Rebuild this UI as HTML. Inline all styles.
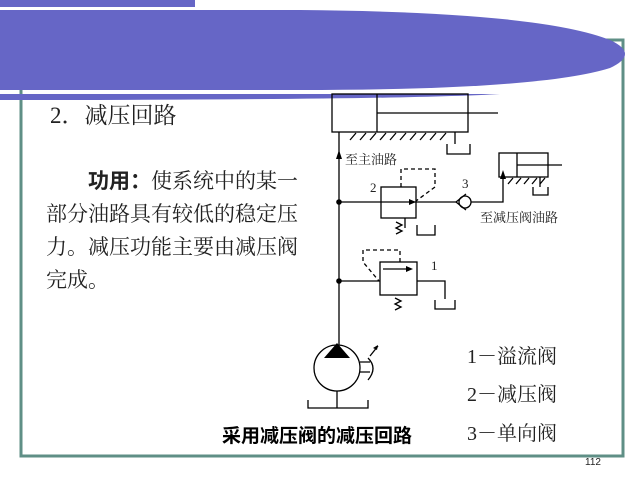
<!DOCTYPE html>
<html><head><meta charset="utf-8"><style>
body{margin:0;width:640px;height:480px;background:#fff;overflow:hidden;position:relative;font-family:"Liberation Serif","Noto Serif CJK SC",serif}
.t{position:absolute;white-space:nowrap;color:#222}
.b{position:absolute;white-space:nowrap;color:#222;font-size:21px;letter-spacing:0px}
</style></head><body>
<svg width="640" height="480" style="position:absolute;left:0;top:0">
<rect x="21" y="40" width="602" height="416" fill="none" stroke="#5f8f86" stroke-width="3"/>
<rect x="0" y="0" width="195" height="7" fill="#6666c6"/>
<path d="M0 10 L300 10 Q540 12 610 40 Q640 54 610 68 Q540 90 300 90 L0 90 Z" fill="#6666c6"/>
<path d="M0 94 L500 94 Q400 100 0 100 Z" fill="#6666c6"/>
<g stroke="#000" stroke-width="1.3" fill="none">
<rect x="332" y="94" width="136" height="38"/>
<line x1="377" y1="94" x2="377" y2="132"/>
<line x1="377" y1="113" x2="498" y2="113"/>
<path d="M350 140l6-7M360 140l6-7M370 140l6-7M380 140l6-7M390 140l6-7M400 140l6-7M410 140l6-7M420 140l6-7M430 140l6-7M440 140l6-7"/>
<path d="M455 132v12M447 144v10h23v-10"/>
<line x1="339" y1="132" x2="339" y2="345"/>
<rect x="381" y="187" width="35" height="31"/>
<line x1="339" y1="202" x2="457" y2="202"/>
<path d="M401 187v-18h34v18l-19 14" stroke-dasharray="4,3"/>
<path d="M396 222l6 3-6 3 6 3-6 3"/>
<path d="M405 218v10M417 225v10h18v-10"/>
<circle cx="465" cy="202" r="6"/>
<path d="M456 202l10-8M456 202l10 8"/>
<path d="M471 202h32v-24"/>
<rect x="499" y="153" width="49" height="24"/>
<line x1="517" y1="153" x2="517" y2="177"/>
<line x1="517" y1="165" x2="562" y2="165"/>
<path d="M508 184l5-6M516 184l5-6M524 184l5-6M532 184l5-6M540 184l5-6"/>
<path d="M540 177v10M533 187v8h15v-8"/>
<rect x="380" y="262" width="37" height="33"/>
<line x1="339" y1="281" x2="380" y2="281"/>
<path d="M400 262v-12h-37v12l16 19" stroke-dasharray="4,3"/>
<line x1="383" y1="269" x2="411" y2="269"/>
<path d="M417 281h28v18"/>
<path d="M395 298l6 3-6 3 6 3-6 3"/>
<path d="M435 300v9h20v-9"/>
<circle cx="337" cy="368" r="23"/>
<path d="M337 391v17M308 400v8h60v-8"/>
<path d="M360 362h10M360 372h10M368 358q10 10 0 22"/>
<path d="M370 356l8-10"/>
</g>
<g fill="#000">
<circle cx="339" cy="202" r="2.8"/>
<circle cx="339" cy="281" r="2.8"/>
<path d="M337 343l-13 15h26z"/>
<path d="M339 150l-3 9h6z"/>
<path d="M503 170l-3 9h6z"/>
<path d="M416 202l-7-3v6z"/>
<path d="M413 269l-7-3v6z"/>
<path d="M378 345l-5 3 4 2z"/>
</g>
</svg>
<div class="t" style="left:50px;top:97px;font-size:23px">2．减压回路</div>
<div class="b" style="left:88px;top:165px"><span style="font-family:'Liberation Sans','Noto Sans CJK SC',sans-serif;font-weight:bold">功用：</span>使系统中的某一</div>
<div class="b" style="left:46px;top:198px">部分油路具有较低的稳定压</div>
<div class="b" style="left:46px;top:231px">力。减压功能主要由减压阀</div>
<div class="b" style="left:46px;top:264px">完成。</div>
<div class="t" style="left:345px;top:149px;font-size:13px">至主油路</div>
<div class="t" style="left:370px;top:180px;font-size:13px">2</div>
<div class="t" style="left:462px;top:176px;font-size:13px">3</div>
<div class="t" style="left:480px;top:207px;font-size:13px">至减压阀油路</div>
<div class="t" style="left:431px;top:258px;font-size:13px">1</div>
<div class="t" style="left:467px;top:340px;font-size:20px">1－溢流阀</div>
<div class="t" style="left:467px;top:378px;font-size:20px">2－减压阀</div>
<div class="t" style="left:467px;top:417px;font-size:20px">3－单向阀</div>
<div class="t" style="left:222px;top:421px;font-size:19px;font-weight:bold;font-family:'Liberation Sans','Noto Sans CJK SC',sans-serif;color:#000">采用减压阀的减压回路</div>
<div class="t" style="left:585px;top:457px;font-size:10px;font-family:'Liberation Sans',sans-serif">112</div>
</body></html>
